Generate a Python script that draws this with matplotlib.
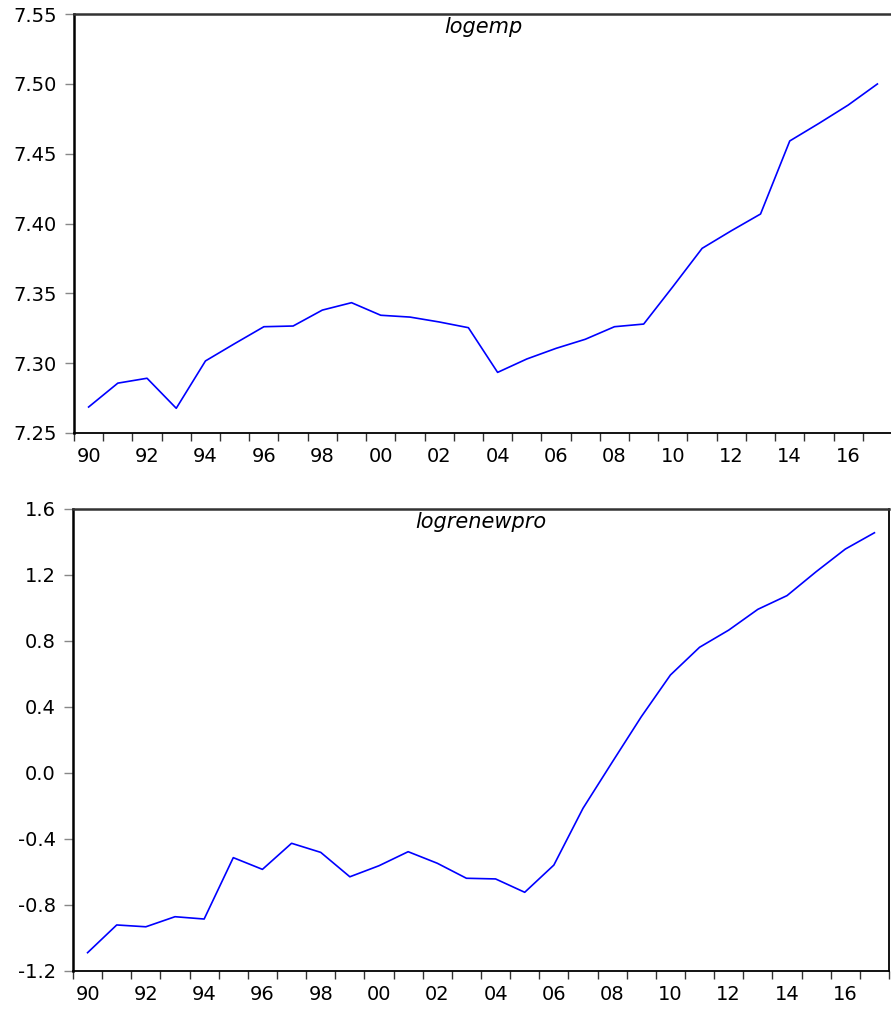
import matplotlib
matplotlib.use("Agg")
import matplotlib.pyplot as plt
import numpy as np

plt.rcParams['font.family'] = ['DejaVu Sans']

years = np.arange(1990, 2018)
logemp = [7.2686, 7.2857, 7.2892, 7.2677, 7.3016, 7.3140, 7.3261, 7.3266,
          7.3380, 7.3433, 7.3343, 7.3330, 7.3295, 7.3254, 7.2934, 7.3030,
          7.3106, 7.3171, 7.3261, 7.3280, 7.3548, 7.3822, 7.3948, 7.4068,
          7.4591, 7.4717, 7.4848, 7.4999]
logrenewpro = [-1.089, -0.921, -0.932, -0.871, -0.885, -0.513, -0.584, -0.426,
               -0.481, -0.629, -0.562, -0.477, -0.547, -0.638, -0.642, -0.723,
               -0.558, -0.214, 0.065, 0.341, 0.594, 0.762, 0.866, 0.992,
               1.075, 1.220, 1.357, 1.456]
label_years = np.arange(1990, 2017, 2)
year_labels = [f"{y % 100:02d}" for y in label_years]

fig = plt.figure(figsize=(8.91, 10.14), dpi=100)
ax1 = fig.add_axes([74 / 891, 1 - 433 / 1014, 818 / 891, 419 / 1014])
ax2 = fig.add_axes([73 / 891, 1 - 971 / 1014, 816 / 891, 462 / 1014])


def style(ax, data, name, yticks, fmt):
    ax.plot(years, data, color='#0000ff', lw=1.2)
    ax.set_xlim(1989.5, 2017.5)
    ax.set_ylim(yticks[0], yticks[-1])
    ax.set_yticks(yticks)
    ax.set_yticklabels([fmt % v for v in yticks])
    # tick marks between years, labels centred on even years
    ax.set_xticks(np.arange(1989.5, 2018, 1.0))
    ax.set_xticklabels([])
    ax.set_xticks(label_years, minor=True)
    ax.set_xticklabels(year_labels, minor=True)
    ax.tick_params(axis='x', which='major', direction='out', length=6, width=1, color='#333333')
    ax.tick_params(axis='x', which='minor', length=0, pad=10, labelsize=14)
    ax.tick_params(axis='y', direction='out', length=6.5, width=1, color='#888888', pad=6, labelsize=14)
    for s in ax.spines.values():
        s.set_color('black')
        s.set_linewidth(1.3)
    ax.spines['left'].set_linewidth(1.8)
    ax.spines['top'].set_color('#333333')
    ax.spines['top'].set_linewidth(1.8)
    ax.text(0.5, 0.993, name, transform=ax.transAxes, ha='center', va='top',
            fontsize=15, style='italic')


style(ax1, logemp, 'logemp', np.round(np.arange(7.25, 7.551, 0.05), 2), '%.2f')
style(ax2, logrenewpro, 'logrenewpro', np.round(np.arange(-1.2, 1.61, 0.4), 1), '%.1f')
ax1.spines['right'].set_visible(False)  # cut off at the image edge in the original

fig.savefig('out.png', dpi=100, facecolor='white')
